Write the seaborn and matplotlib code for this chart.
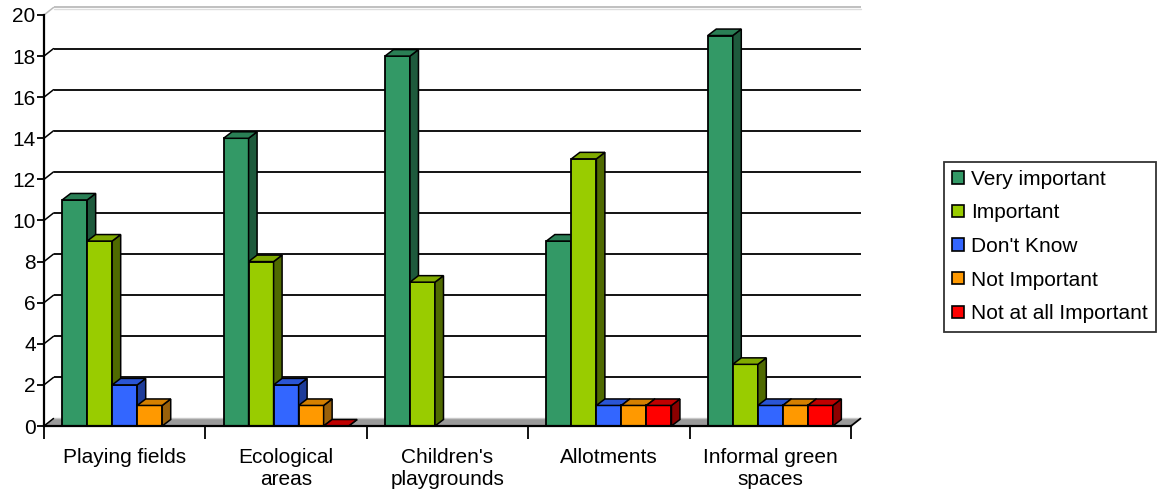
import numpy as np
import pandas as pd
import matplotlib
matplotlib.use("Agg")
import matplotlib.pyplot as plt
from matplotlib.patches import Polygon, Patch
import seaborn as sns

categories = ["Playing fields", "Ecological\nareas", "Children's\nplaygrounds",
              "Allotments", "Informal green\nspaces"]
responses = ["Very important", "Important", "Don't Know", "Not Important",
             "Not at all Important"]
very_important = [11, 14, 18, 9, 19]
important = [9, 8, 7, 13, 3]
dont_know = [2, 2, None, 1, 1]
not_important = [1, 1, None, 1, 1]
not_at_all = [None, 0, None, 1, 1]
yticks = [0, 2, 4, 6, 8, 10, 12, 14, 16, 18, 20]

front_colors = ["#339966", "#99CC00", "#3366FF", "#FF9900", "#FF0000"]
side_colors = ["#1E5A3C", "#4F6A00", "#1E3C99", "#99600A", "#8C0000"]
top_colors = ["#2A7F55", "#80AA00", "#2A55D5", "#D58000", "#C00000"]

series = [very_important, important, dont_know, not_important, not_at_all]
rows = []
for resp, vals in zip(responses, series):
    for cat, v in zip(categories, vals):
        if v is not None:
            rows.append({"category": cat, "response": resp, "value": v})
df = pd.DataFrame(rows)

sns.set_theme(style="white")
plt.rcParams["font.family"] = ["Liberation Sans", "DejaVu Sans"]
plt.rcParams["text.color"] = "black"

W, H = 1161, 494
fig = plt.figure(figsize=(W / 100, H / 100), dpi=100)
ax_left, ax_right, ax_bottom, ax_top = 44, 851, 68, 479
ax = fig.add_axes([ax_left / W, ax_bottom / H, (ax_right - ax_left) / W,
                   (ax_top - ax_bottom) / H])

sns.barplot(data=df, x="category", y="value", hue="response",
            order=categories, hue_order=responses, palette=front_colors,
            saturation=1, width=0.775, gap=0, edgecolor="black", linewidth=1.3,
            errorbar=None, legend=False, ax=ax)

ax.set_xlim(-0.5, 4.5)
ax.set_ylim(0, 20)

# pixel -> data conversion for the depth effect
px_x = 5.0 / (ax_right - ax_left)
px_y = 20.0 / (ax_top - ax_bottom)
wall_dx, wall_dy = 9.5 * px_x, 7.5 * px_y
bar_dx, bar_dy = 8.5 * px_x, 6.5 * px_y

# back-wall gridlines and left-wall diagonals
for v in yticks[1:]:
    col = "#BBBBBB" if v == 20 else "black"
    ax.plot([-0.5 + wall_dx, 4.5 + wall_dx], [v + wall_dy, v + wall_dy],
            color=col, lw=1.3, zorder=1, clip_on=False, solid_capstyle="butt")
    ax.plot([-0.5, -0.5 + wall_dx], [v, v + wall_dy], color=col, lw=1.1,
            zorder=1, clip_on=False)
ax.plot([-0.5 + wall_dx, 4.5 + wall_dx], [20 + wall_dy * 0.75] * 2,
        color="#DDDDDD", lw=1.0, zorder=1, clip_on=False)

# floor
floor = Polygon([(-0.5, 0), (4.5, 0), (4.5 + wall_dx, wall_dy),
                 (-0.5 + wall_dx, wall_dy)], closed=True,
                facecolor="#9A9A9A", edgecolor="#C8C8C8", lw=1.0, zorder=1.5,
                clip_on=False)
ax.add_patch(floor)
ax.plot([4.5, 4.5 + wall_dx], [0, wall_dy], color="black", lw=1.3,
        zorder=1.6, clip_on=False)
ax.plot([-0.5, -0.5 + wall_dx], [0, wall_dy], color="black", lw=1.1,
        zorder=1.6, clip_on=False)

# give every bar a top and a side face
n_cat = len(categories)
bars = [p for p in ax.patches if p is not floor]
for i, p in enumerate(bars):
    k = responses.index(df.iloc[i]["response"])
    z = 3 + k * 0.1
    p.set_zorder(z)
    x, w, h = p.get_x(), p.get_width(), p.get_height()
    side = Polygon([(x + w, 0), (x + w + bar_dx, bar_dy),
                    (x + w + bar_dx, h + bar_dy), (x + w, h)], closed=True,
                   facecolor=side_colors[k], edgecolor="black", lw=1.1,
                   zorder=z + 0.01, clip_on=False)
    top = Polygon([(x, h), (x + w, h), (x + w + bar_dx, h + bar_dy),
                   (x + bar_dx, h + bar_dy)], closed=True,
                  facecolor=top_colors[k], edgecolor="black", lw=1.1,
                  zorder=z + 0.02, clip_on=False)
    ax.add_patch(side)
    ax.add_patch(top)

# axes styling
for s in ["top", "right"]:
    ax.spines[s].set_visible(False)
for s in ["left", "bottom"]:
    ax.spines[s].set_color("black")
    ax.spines[s].set_linewidth(1.6)
    ax.spines[s].set_zorder(5)

ax.set_yticks(yticks)
ax.set_yticklabels([str(v) for v in yticks])
ax.tick_params(axis="y", direction="out", length=5, width=1.3, colors="black",
               labelsize=15, pad=1, left=True)
ax.set_xticks(range(n_cat))
ax.set_xticklabels(categories, linespacing=1.2)
ax.set_xticks(np.arange(-0.5, n_cat, 1.0), minor=True)
ax.tick_params(axis="x", which="major", length=0, labelsize=15, pad=16,
               colors="black")
ax.tick_params(axis="x", which="minor", length=9, width=1.3, colors="black",
               direction="out", bottom=True)
ax.set_xlabel("")
ax.set_ylabel("")
ax.grid(False)

handles = [Patch(facecolor=c, edgecolor="black", lw=1.2) for c in front_colors]
leg = fig.legend(handles, responses, loc="center left",
                 bbox_to_anchor=(944 / W, 1 - 246.5 / H), fontsize=15,
                 frameon=True, fancybox=False, shadow=False, labelcolor="black",
                 handlelength=0.55, handleheight=0.55, handletextpad=0.35,
                 labelspacing=0.7, borderpad=0.4, borderaxespad=0)
leg.get_frame().set_edgecolor("black")
leg.get_frame().set_linewidth(1.3)

fig.savefig("out.png", dpi=100, facecolor="white")
